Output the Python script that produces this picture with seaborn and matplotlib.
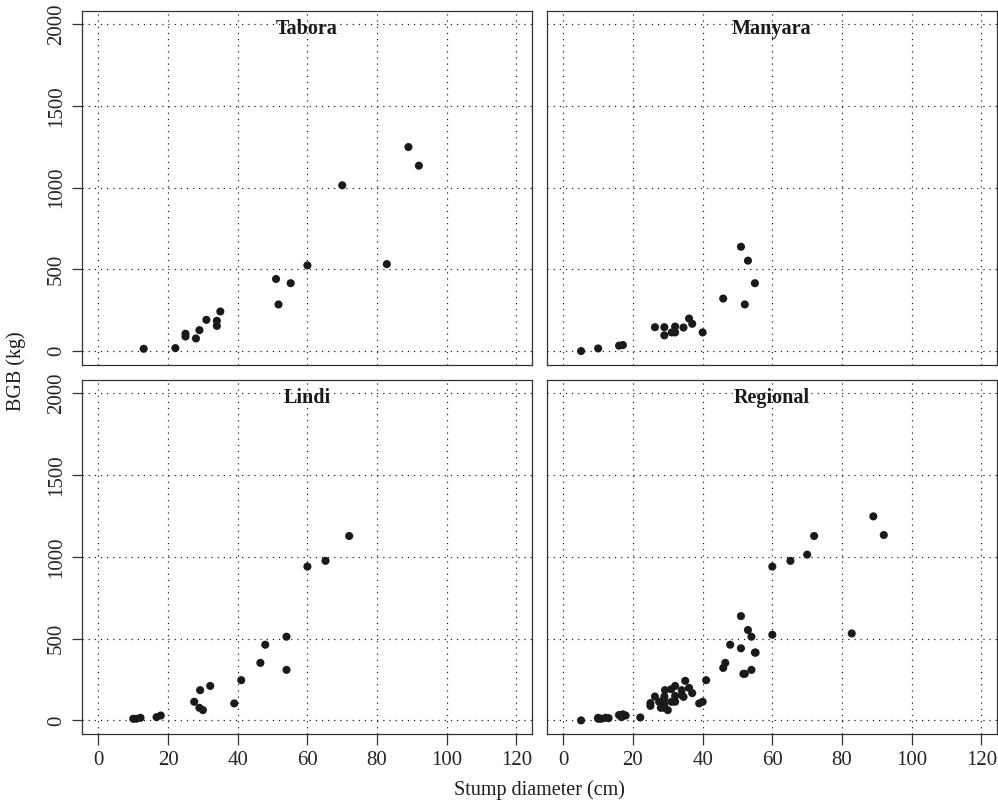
import numpy as np
import pandas as pd
import matplotlib
matplotlib.use("Agg")
import matplotlib.pyplot as plt
import seaborn as sns

# ---- data ----
tabora_d = [13.0, 22.1, 25.0, 25.0, 28.0, 29.0, 31.0, 34.0, 34.0, 35.0,
            51.0, 51.7, 55.2, 60.0, 70.0, 82.8, 89.0, 92.0]
tabora_b = [14, 18, 106, 89, 77, 128, 191, 185, 154, 242,
            441, 285, 415, 524, 1014, 532, 1248, 1134]

manyara_d = [5.1, 10.0, 16.0, 17.1, 26.3, 29.0, 29.0, 31.1, 32.1, 32.1,
             34.5, 36.1, 37.0, 40.0, 45.9, 51.0, 52.1, 53.0, 55.0]
manyara_b = [0, 16, 33, 37, 146, 146, 96, 114, 150, 114,
             144, 199, 167, 114, 321, 638, 285, 553, 415]

lindi_d = [10.0, 10.9, 12.1, 16.7, 17.9, 27.5, 29.2, 29.0, 30.0, 32.1,
           39.0, 41.0, 46.5, 47.9, 54.0, 54.0, 60.0, 65.2, 72.0]
lindi_b = [10, 10, 16, 20, 30, 114, 185, 77, 63, 211,
           104, 246, 352, 463, 512, 309, 941, 976, 1128]

panels = ["Tabora", "Manyara", "Lindi", "Regional"]
x_ticks = [0, 20, 40, 60, 80, 100, 120]
y_ticks = [0, 500, 1000, 1500, 2000]

rows = []
for name, d, b in [("Tabora", tabora_d, tabora_b),
                   ("Manyara", manyara_d, manyara_b),
                   ("Lindi", lindi_d, lindi_b)]:
    for xi, yi in zip(d, b):
        rows.append((name, xi, yi))
        rows.append(("Regional", xi, yi))
df = pd.DataFrame(rows, columns=["region", "diameter", "bgb"])

# ---- style ----
sns.set_theme(style="white")
plt.rcParams["font.family"] = ["Liberation Serif", "DejaVu Serif"]
plt.rcParams["axes.edgecolor"] = "#333333"
plt.rcParams["axes.linewidth"] = 0.9

g = sns.relplot(data=df, x="diameter", y="bgb", col="region", col_order=panels,
                col_wrap=2, kind="scatter", s=34, color="#1a1a1a",
                edgecolor="none", height=4, aspect=1.2,
                facet_kws=dict(sharex=True, sharey=True, despine=False))
fig = g.figure
fig.set_size_inches(9.98, 8.08)
fig.subplots_adjust(left=0.0822, right=0.999, top=0.987, bottom=0.0912,
                    wspace=0.033, hspace=0.042)
g.set_titles("")
g.set_axis_labels("", "")

axes = g.axes.flatten()
for i, (ax, name) in enumerate(zip(axes, panels)):
    ax.set_xlim(-4.7, 124.5)
    ax.set_ylim(-85, 2083)
    ax.set_xticks(x_ticks)
    ax.set_yticks(y_ticks)
    for xv in x_ticks:
        ax.axvline(xv, color="#111111", lw=0.85, ls=(0, (1, 4.2)), zorder=0)
    for yv in y_ticks:
        ax.axhline(yv, color="#111111", lw=0.85, ls=(0, (1, 4.2)), zorder=0)
    ax.grid(False)
    for sp in ax.spines.values():
        sp.set_visible(True)
        sp.set_color("#333333")
        sp.set_linewidth(0.9)
    left = (i % 2 == 0)
    bottom = (i >= 2)
    ax.tick_params(axis="y", which="both", left=left, right=False,
                   labelleft=left, direction="out", length=7.5, width=0.9,
                   color="#333333", pad=4, labelsize=15)
    ax.tick_params(axis="x", which="both", bottom=bottom, top=False,
                   labelbottom=bottom, direction="out", length=8, width=0.9,
                   color="#333333", pad=4, labelsize=15)
    if left:
        for lab in ax.get_yticklabels():
            lab.set_rotation(90)
            lab.set_va("center")
    ax.text(0.5, 0.949, name, transform=ax.transAxes, ha="center",
            va="center", fontsize=14.5, fontweight="bold", color="#1a1a1a")

fig.text(0.541, 0.022, "Stump diameter (cm)", ha="center", va="center",
         fontsize=14.5, color="#1a1a1a")
fig.text(0.016, 0.54, "BGB (kg)", ha="center", va="center", rotation=90,
         fontsize=14.5, color="#1a1a1a")

fig.savefig("out.png", dpi=100, facecolor="white")
